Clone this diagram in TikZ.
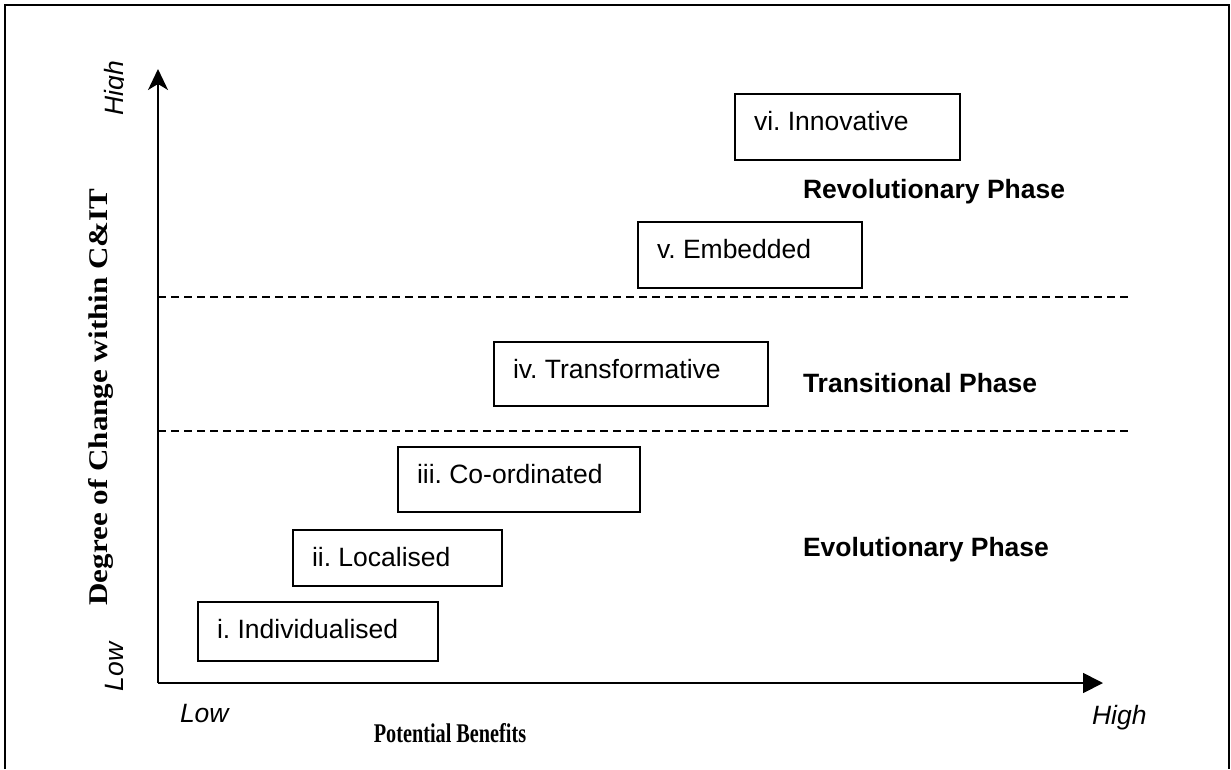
\documentclass[tikz,border=0pt]{standalone}
\usepackage{fontspec}
\setmainfont{Liberation Sans}
\newfontfamily\timesfont{Liberation Serif}
\usetikzlibrary{arrows.meta}
\frenchspacing
\begin{document}
\begin{tikzpicture}[x=1pt,y=-1pt,
  every node/.style={inner sep=0pt, outer sep=0pt},
  stagebox/.style={draw, line width=1.8pt, anchor=north west},
  stagetext/.style={anchor=base west, font=\fontsize{26.5}{30}\selectfont},
  phasetext/.style={anchor=base west, font=\fontsize{26.5}{30}\selectfont\bfseries},
  axistext/.style={font=\fontsize{26.5}{30}\selectfont\itshape},
  axistitle/.style={font=\fontsize{27}{30}\selectfont\timesfont\bfseries},
  axisline/.style={line width=1.8pt},
  phaseline/.style={line width=1.4pt, dash pattern=on 8pt off 5pt},
  frameline/.style={line width=1.8pt}]
\useasboundingbox (0,0) rectangle (1231,769);
% outer frame (open at the bottom)
\coordinate (fbl) at (5,769);
\coordinate (ftl) at (5,5);
\coordinate (ftr) at (1229,5);
\coordinate (fbr) at (1229,769);
\draw[frameline] (fbl) -- (ftl) -- (ftr) -- (fbr);
% axes
\coordinate (O) at (158,683);
\coordinate (ytip) at (158,69);
\coordinate (xtip) at (1103,683);
\draw[axisline, -{Stealth[length=21pt,width=20pt,inset=6pt]}] (O) -- (ytip);
\draw[axisline, -{Triangle[length=20pt,width=20pt]}] (O) -- (xtip);
% phase separators
\coordinate (d1a) at (158,297);
\coordinate (d1b) at (1130,297);
\coordinate (d2a) at (158,431);
\coordinate (d2b) at (1130,431);
\draw[phaseline] (d1a) -- (d1b);
\draw[phaseline] (d2a) -- (d2b);
% stage boxes
\node[stagebox, minimum width=240pt, minimum height=59pt] (b1) at (198,602) {};
\node[stagebox, minimum width=209pt, minimum height=56pt] (b2) at (293,530) {};
\node[stagebox, minimum width=242pt, minimum height=65pt] (b3) at (398,447) {};
\node[stagebox, minimum width=274pt, minimum height=64pt] (b4) at (494,342) {};
\node[stagebox, minimum width=224pt, minimum height=66pt] (b5) at (638,222) {};
\node[stagebox, minimum width=225pt, minimum height=66pt] (b6) at (735,94) {};
\node[stagetext] (t1) at ([xshift=19pt,yshift=-36pt]b1.north west) {i. Individualised};
\node[stagetext] (t2) at ([xshift=19pt,yshift=-36pt]b2.north west) {ii. Localised};
\node[stagetext] (t3) at ([xshift=19pt,yshift=-36pt]b3.north west) {iii. Co-ordinated};
\node[stagetext] (t4) at ([xshift=19pt,yshift=-36pt]b4.north west) {iv. Transformative};
\node[stagetext] (t5) at ([xshift=19pt,yshift=-36pt]b5.north west) {v. Embedded};
\node[stagetext] (t6) at ([xshift=19pt,yshift=-36pt]b6.north west) {vi. Innovative};
% phase labels
\node[phasetext] (p1) at (803,198) {Revolutionary Phase};
\node[phasetext] (p2) at (803,392) {Transitional Phase};
\node[phasetext] (p3) at (803,556) {Evolutionary Phase};
% axis end labels
\node[axistext, anchor=base west] (xlow) at (180,722) {Low};
\node[axistext, anchor=base west] (xhigh) at (1092,724) {High};
\node[axistext, anchor=base, rotate=90] (ylow) at (123,667) {Low};
\begin{scope}
\clip (60,30) rectangle (123,140);
\node[axistext, anchor=base, rotate=90] (yhigh) at (123,88) {High};
\end{scope}
% axis titles
\node[axistitle, anchor=base] (xtitle) at (450,742) {\scalebox{0.75}[1]{Potential Benefits}};
\node[axistitle, anchor=base, rotate=90] (ytitle) at (107,397) {\scalebox{1.15}[1]{Degree of Change within C\&IT}};
\end{tikzpicture}
\end{document}
